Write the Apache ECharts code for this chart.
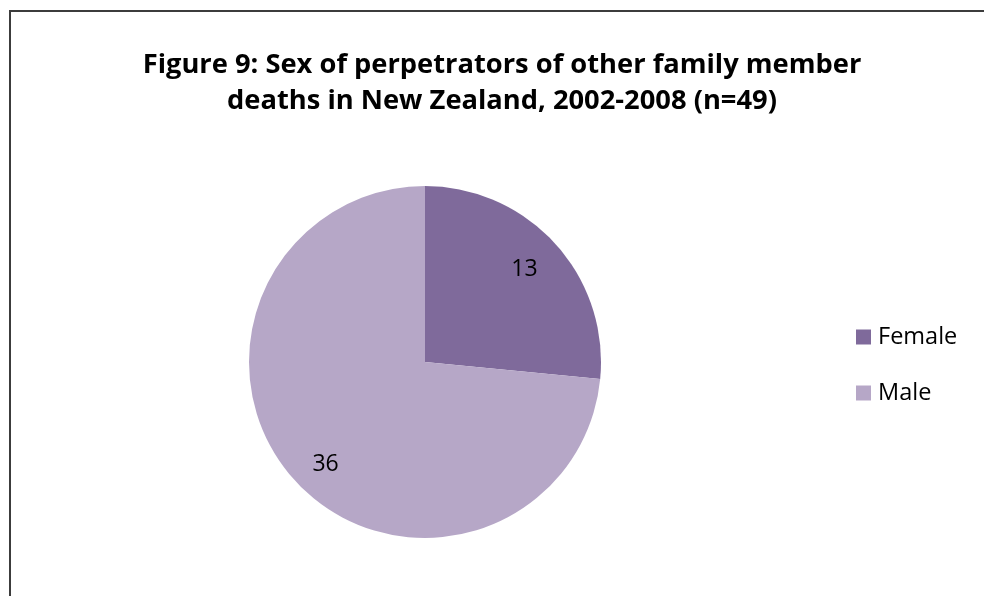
<!DOCTYPE html>
<html>
<head>
<meta charset="utf-8">
<script src="https://cdn.jsdelivr.net/npm/echarts@6/dist/echarts.min.js"></script>
<style>
  html, body { margin: 0; padding: 0; background: #fff; overflow: hidden; }
  #chart { position: absolute; left: 0; top: 0; width: 984px; height: 596px; }
</style>
</head>
<body>
<div id="chart"></div>
<script>
const titleText = "Figure 9: Sex of perpetrators of other family member\ndeaths in New Zealand, 2002-2008 (n=49)";
const categories = ["Female", "Male"];
const values = [13, 36];
const colors = ["#7f6a9b", "#b6a7c7"];

const chart = echarts.init(document.getElementById('chart'));
const pieData = categories.map((c, i) => ({ name: c, value: values[i], itemStyle: { color: colors[i] } }));
const labelOffsets = [[-5, 2], [5, 8]];
const fontFam = '"Open Sans", Lato, sans-serif';

chart.setOption({
  animation: false,
  backgroundColor: '#fff',
  graphic: [{
    type: 'polyline',
    silent: true,
    shape: { points: [[10, 620], [10, 11], [1000, 11]] },
    style: { stroke: '#3c3c3c', lineWidth: 2, fill: null }
  }],
  title: {
    text: titleText,
    left: 497, top: 42, textAlign: 'center',
    textStyle: { fontFamily: fontFam, fontWeight: 'bold', fontSize: 27.3, lineHeight: 36, color: '#000' }
  },
  legend: {
    orient: 'vertical',
    left: 851, top: 320,
    itemWidth: 15, itemHeight: 15, itemGap: 32,
    icon: 'rect',
    data: categories,
    textStyle: { fontFamily: fontFam, fontSize: 23.5, color: '#000', padding: [0, 0, 0, 2] }
  },
  series: [
    {
      type: 'pie',
      center: [425, 362],
      radius: [0, 176],
      startAngle: 90,
      clockwise: true,
      label: { show: false },
      labelLine: { show: false },
      silent: true,
      data: pieData
    },
    {
      type: 'pie',
      center: [425, 362],
      radius: [100, 176],
      startAngle: 90,
      clockwise: true,
      silent: true,
      itemStyle: { color: 'rgba(0,0,0,0)' },
      label: { show: true, position: 'inside', formatter: '{c}', fontFamily: fontFam, fontSize: 23, color: '#000' },
      labelLine: { show: false },
      data: categories.map((c, i) => ({
        name: c, value: values[i],
        itemStyle: { color: 'rgba(0,0,0,0)' },
        label: { offset: labelOffsets[i] }
      }))
    }
  ]
});
</script>
</body>
</html>
